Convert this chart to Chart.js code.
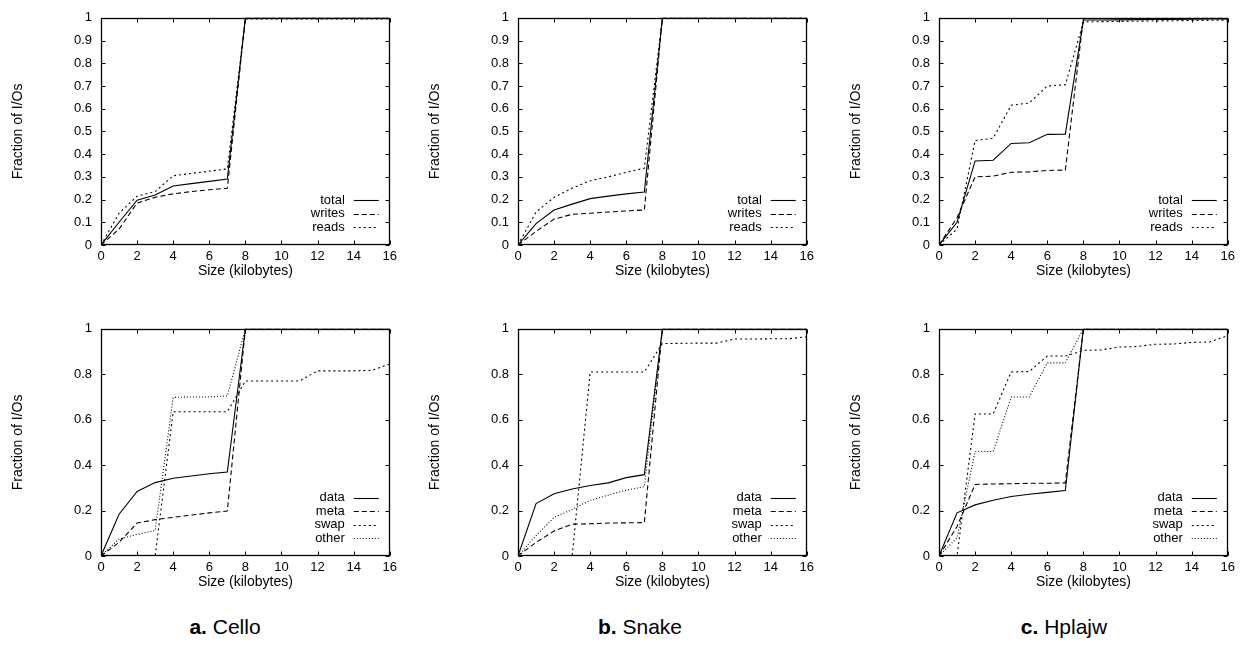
<!DOCTYPE html>
<html>
<head>
<meta charset="utf-8">
<script src="https://cdn.jsdelivr.net/npm/chart.js@4.4.1/dist/chart.umd.min.js"></script>
<style>
  body { margin: 0; background: #fff; width: 1241px; height: 645px; position: relative; overflow: hidden;
         font-family: "Liberation Sans", Arial, sans-serif; color: #000; }
  canvas { position: absolute; }
  .caption { position: absolute; top: 615px; font-size: 21px; line-height: 24px; transform: translateX(-50%); white-space: nowrap; }
</style>
</head>
<body>
<canvas id="cTopA"></canvas>
<canvas id="cTopB"></canvas>
<canvas id="cTopC"></canvas>
<canvas id="cBotA"></canvas>
<canvas id="cBotB"></canvas>
<canvas id="cBotC"></canvas>
<div class="caption" style="left:225px"><b>a.</b> Cello</div>
<div class="caption" style="left:640px"><b>b.</b> Snake</div>
<div class="caption" style="left:1064px"><b>c.</b> Hplajw</div>
<script>
// x values (kilobytes) shared by every curve
const sizeKB = [0, 1, 2, 3, 4, 5, 6, 7, 8, 9, 10, 11, 12, 13, 14, 15, 16];

// tick labels
const xTicks = [0, 2, 4, 6, 8, 10, 12, 14, 16];
const yTicksTop = [0, 0.1, 0.2, 0.3, 0.4, 0.5, 0.6, 0.7, 0.8, 0.9, 1];
const yTicksBottom = [0, 0.2, 0.4, 0.6, 0.8, 1];

const topLabels = ["total", "writes", "reads"];
const bottomLabels = ["data", "meta", "swap", "other"];

// top row: total / writes / reads
const celloTotal  = [0, 0.10, 0.197, 0.22, 0.26, 0.27, 0.28, 0.29, 1, 1, 1, 1, 1, 1, 1, 1, 1];
const celloWrites = [0, 0.07, 0.185, 0.21, 0.225, 0.235, 0.243, 0.25, 1, 1, 1, 1, 1, 1, 1, 1, 1];
const celloReads  = [0, 0.14, 0.215, 0.235, 0.305, 0.315, 0.325, 0.335, 0.995, 0.995, 0.995, 0.995, 0.995, 0.995, 0.995, 0.995, 0.995];

const snakeTotal  = [0, 0.094, 0.154, 0.18, 0.204, 0.215, 0.225, 0.233, 1, 1, 1, 1, 1, 1, 1, 1, 1];
const snakeWrites = [0, 0.06, 0.114, 0.135, 0.14, 0.145, 0.15, 0.154, 1, 1, 1, 1, 1, 1, 1, 1, 1];
const snakeReads  = [0, 0.145, 0.21, 0.25, 0.283, 0.30, 0.32, 0.338, 1, 1, 1, 1, 1, 1, 1, 1, 1];

const hplajwTotal  = [0, 0.10, 0.37, 0.373, 0.447, 0.45, 0.487, 0.488, 0.99, 0.99, 0.991, 0.992, 0.993, 0.993, 0.994, 0.995, 0.995];
const hplajwWrites = [0, 0.12, 0.30, 0.303, 0.32, 0.322, 0.328, 0.33, 0.998, 0.998, 0.998, 0.999, 0.999, 0.999, 1, 1, 1];
const hplajwReads  = [0, 0.07, 0.46, 0.47, 0.615, 0.625, 0.70, 0.705, 0.982, 0.983, 0.984, 0.985, 0.986, 0.987, 0.988, 0.989, 0.99];

// bottom row: data / meta / swap / other
const celloData  = [0, 0.184, 0.284, 0.323, 0.342, 0.352, 0.362, 0.37, 1, 1, 1, 1, 1, 1, 1, 1, 1];
const celloMeta  = [0, 0.06, 0.145, 0.16, 0.17, 0.18, 0.19, 0.198, 1, 1, 1, 1, 1, 1, 1, 1, 1];
const celloSwap  = [0, 0, 0, 0, 0.635, 0.635, 0.635, 0.635, 0.77, 0.77, 0.77, 0.77, 0.815, 0.815, 0.815, 0.817, 0.845];
const celloOther = [0, 0.075, 0.095, 0.112, 0.698, 0.70, 0.70, 0.705, 1, 1, 1, 1, 1, 1, 1, 1, 1];

const snakeData  = [0, 0.231, 0.274, 0.295, 0.31, 0.322, 0.345, 0.358, 1, 1, 1, 1, 1, 1, 1, 1, 1];
const snakeMeta  = [0, 0.06, 0.11, 0.14, 0.142, 0.145, 0.146, 0.147, 1, 1, 1, 1, 1, 1, 1, 1, 1];
const snakeSwap  = [0, 0, 0, 0, 0.81, 0.81, 0.81, 0.81, 0.935, 0.936, 0.937, 0.937, 0.955, 0.955, 0.956, 0.956, 0.965];
const snakeOther = [0, 0.09, 0.17, 0.205, 0.245, 0.268, 0.29, 0.305, 1, 1, 1, 1, 1, 1, 1, 1, 1];

const hplajwData  = [0, 0.19, 0.225, 0.245, 0.262, 0.272, 0.28, 0.288, 1, 1, 1, 1, 1, 1, 1, 1, 1];
const hplajwMeta  = [0, 0.13, 0.315, 0.317, 0.318, 0.32, 0.32, 0.322, 1, 1, 1, 1, 1, 1, 1, 1, 1];
const hplajwSwap  = [0, 0, 0.625, 0.625, 0.81, 0.812, 0.88, 0.88, 0.905, 0.907, 0.92, 0.922, 0.932, 0.933, 0.94, 0.942, 0.97];
const hplajwOther = [0, 0.08, 0.46, 0.46, 0.70, 0.70, 0.85, 0.85, 1, 1, 1, 1, 1, 1, 1, 1, 1];

// gnuplot-like line types: solid, dashed, short dash, dotted
const dashes = [[], [5, 3], [2, 3], [1, 2]];

const FONT = "'Liberation Sans', Arial, sans-serif";
Chart.defaults.font.family = FONT;
Chart.defaults.font.size = 13;
Chart.defaults.color = "#000";

const PLOT_W = 292, PLOT_H = 232;
const PAD_L = 97, PAD_T = 12, PAD_R = 8, PAD_B = 38;

// frame with inward ticks on all four sides
const framePlugin = {
    id: "frame",
    afterDatasetsDraw(chart) {
        const { ctx, chartArea: a, scales } = chart;
        const L = Math.round(a.left) + 0.5, R = Math.round(a.right) - 0.5;
        const T = Math.round(a.top) + 0.5, B = Math.round(a.bottom) - 0.5;
        ctx.save();
        ctx.strokeStyle = "#000";
        ctx.lineWidth = 1;
        ctx.beginPath();
        scales.x.ticks.forEach(t => {
            const px = Math.round(scales.x.getPixelForValue(t.value)) + 0.5;
            ctx.moveTo(px, B); ctx.lineTo(px, B - 4);
            ctx.moveTo(px, T); ctx.lineTo(px, T + 4);
        });
        scales.y.ticks.forEach(t => {
            const py = Math.round(scales.y.getPixelForValue(t.value)) + 0.5;
            ctx.moveTo(L, py); ctx.lineTo(L + 4, py);
            ctx.moveTo(R, py); ctx.lineTo(R - 4, py);
        });
        ctx.stroke();
        ctx.lineWidth = 1.3;
        ctx.strokeRect(L, T, R - L, B - T);
        ctx.restore();
    }
};

// key in the lower right corner: text then line sample
const keyPlugin = {
    id: "key",
    afterDatasetsDraw(chart) {
        const { ctx, chartArea: a } = chart;
        const sets = chart.data.datasets;
        ctx.save();
        ctx.font = "13px " + FONT;
        ctx.fillStyle = "#000";
        ctx.strokeStyle = "#000";
        ctx.lineWidth = 1.1;
        ctx.textAlign = "right";
        ctx.textBaseline = "middle";
        sets.forEach((ds, i) => {
            const y = a.bottom - 18 - (sets.length - 1 - i) * 13.5;
            ctx.fillText(ds.label, a.right - 45, y);
            ctx.setLineDash(ds.borderDash);
            ctx.beginPath();
            ctx.moveTo(a.right - 36, Math.round(y) + 0.5);
            ctx.lineTo(a.right - 11, Math.round(y) + 0.5);
            ctx.stroke();
        });
        ctx.restore();
    }
};

function makePanel(id, plotLeft, plotTop, labels, series, yTicks) {
    const canvas = document.getElementById(id);
    canvas.width = PAD_L + PLOT_W + PAD_R;
    canvas.height = PAD_T + PLOT_H + PAD_B;
    canvas.style.left = (plotLeft - PAD_L) + "px";
    canvas.style.top = (plotTop - PAD_T) + "px";

    new Chart(canvas.getContext("2d"), {
        type: "line",
        data: {
            datasets: series.map((vals, i) => ({
                label: labels[i],
                data: sizeKB.map((x, k) => ({ x: x, y: vals[k] })),
                borderColor: "#000",
                borderWidth: 1.1,
                borderDash: dashes[i],
                pointRadius: 0,
                tension: 0,
                fill: false
            }))
        },
        options: {
            responsive: false,
            animation: false,
            layout: { padding: { top: PAD_T, right: PAD_R, left: 0, bottom: 0 } },
            plugins: { legend: { display: false }, tooltip: { enabled: false } },
            scales: {
                x: {
                    type: "linear", min: 0, max: 16,
                    grid: { display: false, drawTicks: false },
                    border: { display: false },
                    afterBuildTicks: s => { s.ticks = xTicks.map(v => ({ value: v })); },
                    afterFit: s => { s.height = PAD_B; },
                    ticks: { padding: 4, maxRotation: 0, autoSkip: false, callback: v => String(v) },
                    title: { display: true, text: "Size (kilobytes)", font: { size: 14 }, padding: { top: 0, bottom: 3 } }
                },
                y: {
                    type: "linear", min: 0, max: 1,
                    grid: { display: false, drawTicks: false },
                    border: { display: false },
                    afterBuildTicks: s => { s.ticks = yTicks.map(v => ({ value: v })); },
                    afterFit: s => { s.width = PAD_L; },
                    ticks: { padding: 9, autoSkip: false, callback: v => String(v) },
                    title: { display: true, text: "Fraction of I/Os", font: { size: 14 }, padding: { top: 6, bottom: 0 } }
                }
            }
        },
        plugins: [framePlugin, keyPlugin]
    });
}

makePanel("cTopA", 101, 13, topLabels, [celloTotal, celloWrites, celloReads], yTicksTop);
makePanel("cTopB", 518, 13, topLabels, [snakeTotal, snakeWrites, snakeReads], yTicksTop);
makePanel("cTopC", 939, 13, topLabels, [hplajwTotal, hplajwWrites, hplajwReads], yTicksTop);
makePanel("cBotA", 101, 324, bottomLabels, [celloData, celloMeta, celloSwap, celloOther], yTicksBottom);
makePanel("cBotB", 518, 324, bottomLabels, [snakeData, snakeMeta, snakeSwap, snakeOther], yTicksBottom);
makePanel("cBotC", 939, 324, bottomLabels, [hplajwData, hplajwMeta, hplajwSwap, hplajwOther], yTicksBottom);
</script>
</body>
</html>
